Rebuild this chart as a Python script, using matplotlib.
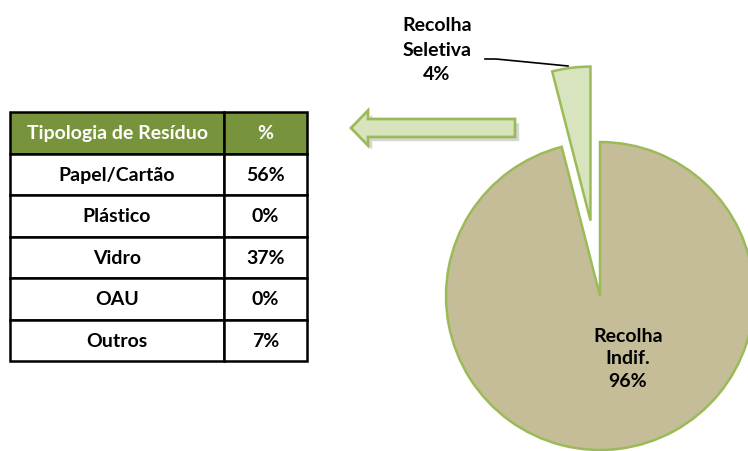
import matplotlib

matplotlib.use("Agg")
import matplotlib.pyplot as plt
from matplotlib.patches import FancyArrow, Shadow

# data
pie_labels = ["Recolha\nSeletiva", "Recolha\nIndif."]
pie_values = [4, 96]
table_header = ["Tipologia de Resíduo", "%"]
residue_types = ["Papel/Cartão", "Plástico", "Vidro", "OAU", "Outros"]
residue_pct = [56, 0, 37, 0, 7]

W, H = 748, 452
FONT = ["Lato", "DejaVu Sans"]
EDGE = "#9BBB59"

fig = plt.figure(figsize=(W / 100, H / 100), dpi=100)
ax = fig.add_axes([0, 0, 1, 1])

# pie, working in pixel units with y measured from the bottom
radius = 154
wedges, _ = ax.pie(
    pie_values,
    startangle=90,
    counterclock=True,
    colors=["#D7E4BD", "#C4BD97"],
    explode=[76, 0],  # absolute offset in pixels
    radius=radius,
    center=(600, H - 297),
    wedgeprops=dict(edgecolor=EDGE, linewidth=1.8),
    frame=True,
)
ax.set_xlim(0, W)
ax.set_ylim(0, H)
ax.set_aspect("equal")
ax.axis("off")

total = sum(pie_values)
ax.text(437, H - 50, f"{pie_labels[0]}\n{round(pie_values[0] / total * 100)}%",
        ha="center", va="center", fontsize=14, fontweight="bold",
        family=FONT, linespacing=1.55)
ax.text(628, H - 359, f"{pie_labels[1]}\n{round(pie_values[1] / total * 100)}%",
        ha="center", va="center", fontsize=14, fontweight="bold",
        family=FONT, linespacing=1.42)
ax.plot([485, 496, 568], [H - 60, H - 60, H - 67], color="black", lw=1.2)

# block arrow pointing to the table
arrow = FancyArrow(515, H - 129, -147, 0, width=18, head_width=35,
                   head_length=17, length_includes_head=False,
                   facecolor="#D7E4BD", edgecolor=EDGE, linewidth=2)
shadow = Shadow(arrow, 3, -3)
shadow.set_facecolor("#BBBBBB")
shadow.set_edgecolor("none")
shadow.set_alpha(0.6)
ax.add_patch(shadow)
ax.add_patch(arrow)

# table
cells = [[name, f"{pct}%"] for name, pct in zip(residue_types, residue_pct)]
tbl = ax.table(
    cellText=cells,
    colLabels=table_header,
    colWidths=[214 / 297, 83 / 297],
    cellLoc="center",
    bbox=[10 / W, (H - 362) / H, 297 / W, (362 - 113) / H],
)
tbl.auto_set_font_size(False)
for (r, c), cell in tbl.get_celld().items():
    cell.set_linewidth(1.8)
    cell.set_edgecolor("black")
    txt = cell.get_text()
    txt.set_fontsize(14)
    txt.set_fontweight("bold")
    txt.set_family(FONT)
    if r == 0:
        cell.set_facecolor("#77933C")
        txt.set_color("white")
    else:
        cell.set_facecolor("white")

fig.savefig("out.png", dpi=100)
